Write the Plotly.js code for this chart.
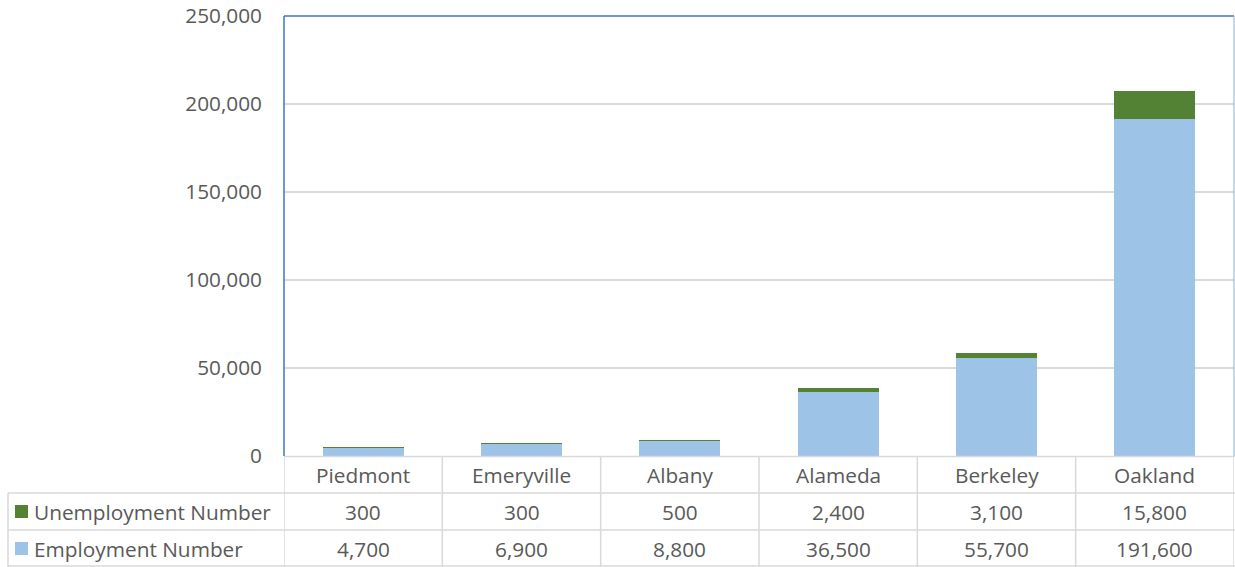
<!DOCTYPE html>
<html>
<head>
<meta charset="utf-8">
<script src="https://cdn.plot.ly/plotly-3.0.1.min.js"></script>
<style>html,body{margin:0;padding:0;background:#fff;}#chart{width:1235px;height:567px;}</style>
</head>
<body>
<div id="chart"></div>
<script>
const categories = ["Piedmont", "Emeryville", "Albany", "Alameda", "Berkeley", "Oakland"];
const unemployment = [300, 300, 500, 2400, 3100, 15800];
const employment = [4700, 6900, 8800, 36500, 55700, 191600];
const seriesNames = ["Unemployment Number", "Employment Number"];
const colors = {unemp: "#548235", emp: "#9DC3E6"};

const textColor = "#595959";
const fontFam = "'Open Sans', sans-serif";
const fs = 20.8;
const gridCol = "#d9d9d9";

// pixel helpers (plot area: top 16, bottom 456, left 284, right 1234)
const plotTop = 16, plotBottom = 456, plotLeft = 284, plotRight = 1234;
const ph = plotBottom - plotTop, pw = plotRight - plotLeft;
const py = Y => (plotBottom - Y) / ph;
const px = X => (X - plotLeft) / pw;

const fmt = v => v.toLocaleString("en-US");

const traces = [
  {type: "bar", name: seriesNames[1], x: categories, y: employment, marker: {color: colors.emp}, hoverinfo: "x+y+name"},
  {type: "bar", name: seriesNames[0], x: categories, y: unemployment, marker: {color: colors.unemp}, hoverinfo: "x+y+name"}
];

const shapes = [];
const annotations = [];
const gl = {color: gridCol, width: 1.5};
// table horizontal lines
shapes.push({type: "line", xref: "paper", yref: "paper", x0: 0, x1: 1.001, y0: py(456.5), y1: py(456.5), line: gl});
[493, 530, 566].forEach(Y => shapes.push({type: "line", xref: "paper", yref: "paper", x0: px(8), x1: 1.001, y0: py(Y), y1: py(Y), line: gl}));
// table vertical lines at category boundaries
for (let k = 0; k <= categories.length; k++) {
  shapes.push({type: "line", xref: "x", yref: "paper", x0: k - 0.5, x1: k - 0.5, y0: py(456), y1: py(567), line: gl});
}
shapes.push({type: "line", xref: "paper", yref: "paper", x0: px(8), x1: px(8), y0: py(493), y1: py(567), line: gl});
// plot area border (blue) left, top, right
const bl = {color: "#4472C4", width: 1.5};
shapes.push({type: "line", xref: "paper", yref: "paper", x0: 0, x1: 0, y0: 0, y1: 1, line: bl});
shapes.push({type: "line", xref: "paper", yref: "paper", x0: 0, x1: 1, y0: 1, y1: 1, line: bl});
shapes.push({type: "line", xref: "paper", yref: "paper", x0: 1, x1: 1, y0: 0, y1: 1, line: {color: "#8FAADC", width: 1}});

const rowY = [py(474.5), py(511.5), py(548.5)];
const tf = {family: fontFam, size: fs, color: textColor};
categories.forEach((c, i) => {
  annotations.push({xref: "x", yref: "paper", x: i, y: rowY[0], xanchor: "center", yanchor: "middle", text: c, showarrow: false, font: tf});
  annotations.push({xref: "x", yref: "paper", x: i, y: rowY[1], xanchor: "center", yanchor: "middle", text: fmt(unemployment[i]), showarrow: false, font: tf});
  annotations.push({xref: "x", yref: "paper", x: i, y: rowY[2], xanchor: "center", yanchor: "middle", text: fmt(employment[i]), showarrow: false, font: tf});
});
// legend keys in table
[[colors.unemp, seriesNames[0], 511.5], [colors.emp, seriesNames[1], 548.5]].forEach(([col, name, Y]) => {
  shapes.push({type: "rect", xref: "paper", yref: "paper", x0: px(15), x1: px(28), y0: py(Y - 6.5), y1: py(Y + 6.5), fillcolor: col, line: {width: 0}});
  annotations.push({xref: "paper", yref: "paper", x: px(32), y: py(Y), xanchor: "left", yanchor: "middle", text: name, showarrow: false, font: tf});
});

const layout = {
  width: 1235, height: 567,
  margin: {l: plotLeft, r: 1235 - plotRight, t: plotTop, b: 567 - plotBottom, pad: 0},
  paper_bgcolor: "#fff", plot_bgcolor: "#fff",
  barmode: "stack", bargap: 0.49,
  showlegend: false,
  font: tf,
  xaxis: {showticklabels: false, showgrid: false, zeroline: false, showline: false, ticks: "", range: [-0.5, 5.5]},
  yaxis: {range: [0, 250000], dtick: 50000, tickformat: ",", showgrid: true, gridcolor: gridCol, gridwidth: 1.5, zeroline: false, showline: false, ticks: "", ticklabelstandoff: 21, tickfont: tf},
  shapes: shapes,
  annotations: annotations
};

Plotly.newPlot("chart", traces, layout, {displayModeBar: false, staticPlot: true});
</script>
</body>
</html>
